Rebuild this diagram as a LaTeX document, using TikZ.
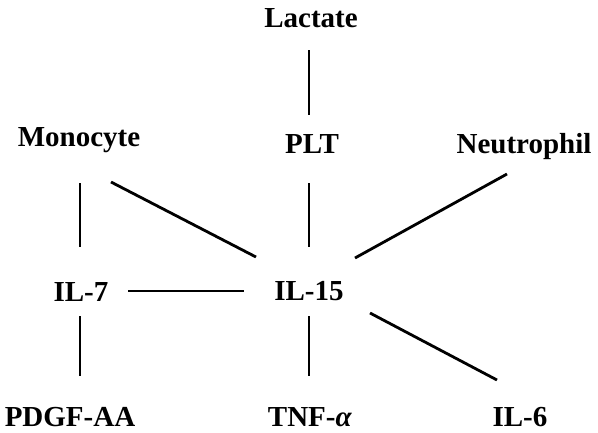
\documentclass[tikz,border=0pt]{standalone}
\usepackage{fontspec}
\setmainfont{Liberation Serif}
\begin{document}
\begin{tikzpicture}[x=1pt,y=-1pt,
  lbl/.style={font=\bfseries\fontsize{29}{32}\selectfont, anchor=base, inner sep=0pt},
  link/.style={line width=2.8pt}]
\useasboundingbox[fill=white] (0,0) rectangle (598,432);
\node[lbl] (lac) at (311,27) {Lactate};
\node[lbl] (plt) at (312,153) {PLT};
\node[lbl] (mono) at (79,146) {Monocyte};
\node[lbl] (neut) at (524,153) {Neutrophil};
\node[lbl] (il7) at (81,301) {IL-7};
\node[lbl] (il15) at (309,300) {IL-15};
\node[lbl] (pdgf) at (70,426) {PDGF-AA};
\node[lbl] (tnf) at (310,426) {TNF-\textit{α}};
\node[lbl] (il6) at (520,426) {IL-6};
% connectors
\draw[link] ([shift={(-2,23)}]lac.base) -- ([shift={(-3,-38)}]plt.base);
\draw[link] ([shift={(-3,30)}]plt.base) -- ([shift={(0,-53)}]il15.base);
\draw[link] ([shift={(1,37)}]mono.base) -- ([shift={(-1,-54)}]il7.base);
\draw[link] ([shift={(32,36)}]mono.base) -- ([shift={(-53,-43)}]il15.base);
\draw[link] ([shift={(-17,21)}]neut.base) -- ([shift={(46,-42)}]il15.base);
\draw[link] ([shift={(47,-10)}]il7.base) -- ([shift={(-65,-9)}]il15.base);
\draw[link] ([shift={(-1,15)}]il7.base) -- ([shift={(10,-50)}]pdgf.base);
\draw[link] ([shift={(0,16)}]il15.base) -- ([shift={(-1,-50)}]tnf.base);
\draw[link] ([shift={(61,13)}]il15.base) -- ([shift={(-23,-46)}]il6.base);
\end{tikzpicture}
\end{document}
